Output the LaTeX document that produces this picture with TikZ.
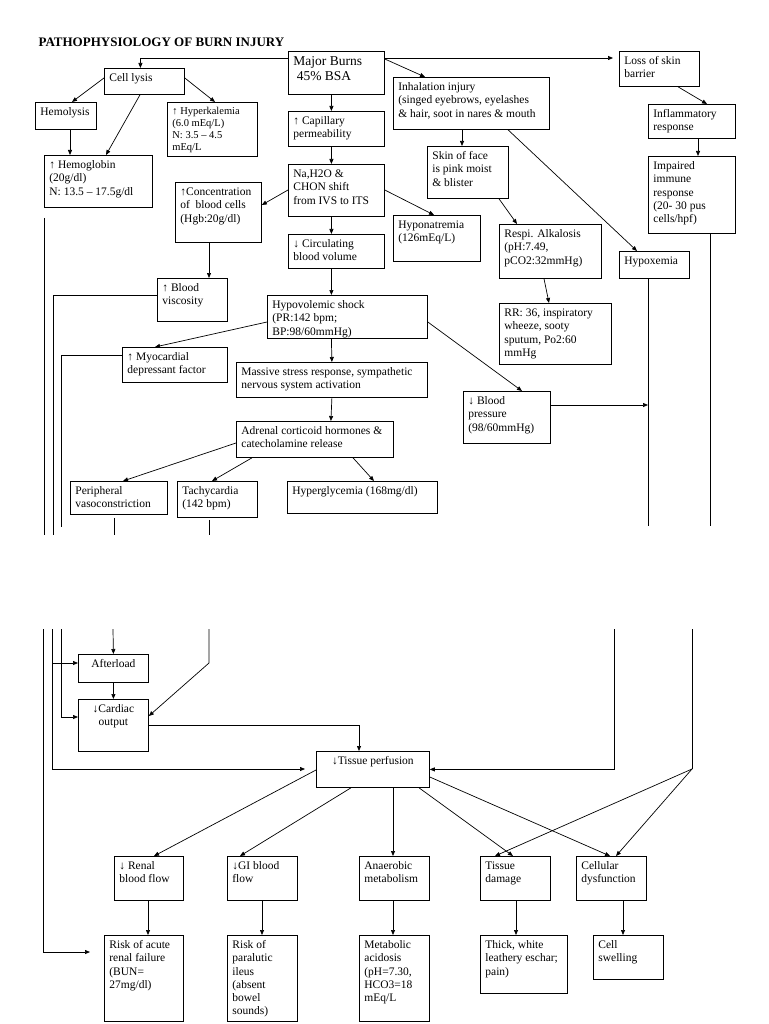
\documentclass[tikz,border=0pt]{standalone}
\usepackage{fontspec}
\setmainfont{Liberation Serif}
\usetikzlibrary{arrows.meta}
\newcommand{\mkbox}[7][]{\node[box,#1] (#2) at (#3,#4) {\parbox[c][\dimexpr#6pt-8pt\relax][t]{\dimexpr#5pt-10pt\relax}{\begin{tabular}[t]{@{}l@{}}#7\end{tabular}}};}
\newcommand{\mkcbox}[7][]{\node[box,#1] (#2) at (#3,#4) {\parbox[c][\dimexpr#6pt-8pt\relax][t]{\dimexpr#5pt-10pt\relax}{\centering\begin{tabular}[t]{@{}c@{}}#7\end{tabular}}};}
\begin{document}
\begin{tikzpicture}[x=1pt,y=-1pt,
  box/.style={draw,line width=0.8pt,anchor=north west,inner xsep=5pt,inner ysep=4pt,font=\fontsize{11.5}{13.2}\selectfont},
  ln/.style={line width=0.7pt},
  arr/.style={ln,-{Triangle[length=5pt,width=4pt]}}]
\fill[white] (0,0) rectangle (768,1024);
\useasboundingbox (0,0) rectangle (768,1024);
\node[anchor=base west,font=\bfseries\fontsize{13}{15}\selectfont] (title) at (35,47) {PATHOPHYSIOLOGY OF BURN INJURY};
% centre column
\mkbox[font=\fontsize{13.5}{15}\selectfont]{burns}{288}{51}{96}{43}{Major Burns\\\ 45\% BSA}
\mkbox{cap}{288}{111}{96}{35}{↑ Capillary\\permeability}
\mkbox{na}{288}{164}{96}{52}{Na,H2O \&\\CHON shift\\from IVS to ITS}
\mkbox{circ}{288}{234}{96}{34}{↓ Circulating\\blood volume}
\mkbox{shock}{267}{295}{160}{43}{Hypovolemic shock\\(PR:142 bpm;\\BP:98/60mmHg)}
\mkbox{stress}{236}{362}{191}{35}{Massive stress response, sympathetic\\nervous system activation}
\mkbox{adrenal}{236}{421}{157}{36}{Adrenal corticoid hormones \&\\catecholamine release}
\mkbox{periph}{70}{481}{97}{33}{Peripheral\\vasoconstriction}
\mkbox{tachy}{177}{481}{80}{36}{Tachycardia\\(142 bpm)}
\mkbox{hyperg}{287}{481}{150}{32}{Hyperglycemia (168mg/dl)}
% left side
\mkbox{lysis}{104}{68}{80}{26}{Cell lysis}
\mkbox{hemolysis}{35}{102}{61}{27}{Hemolysis}
\mkbox[font=\fontsize{10.5}{12}\selectfont]{hyperk}{167}{102}{90}{54}{↑ Hyperkalemia\\(6.0 mEq/L)\\N: 3.5 – 4.5\\mEq/L}
\mkbox{hgb}{44}{155}{108}{52}{↑ Hemoglobin\\(20g/dl)\\N: 13.5 – 17.5g/dl}
\mkbox{conc}{175}{182}{86}{60}{↑Concentration\\of\ \ blood cells\\(Hgb:20g/dl)}
\mkbox{visc}{157}{278}{70}{43}{↑ Blood\\viscosity}
\mkbox{myo}{122}{347}{105}{35}{↑ Myocardial\\depressant factor}
% right side
\mkbox{inh}{393}{77}{156}{52}{Inhalation injury\\(singed eyebrows, eyelashes\\\& hair, soot in nares \& mouth}
\mkbox{skin}{427}{146}{81}{52}{Skin of face\\is pink moist\\\& blister}
\mkbox{hypona}{393}{215}{87}{46}{Hyponatremia\\(126mEq/L)}
\mkbox{respi}{499}{224}{102}{54}{Respi. Alkalosis\\(pH:7.49,\\pCO2:32mmHg)}
\mkbox{rr}{499}{303}{112}{61}{RR: 36, inspiratory\\wheeze, sooty\\sputum, Po2:60\\mmHg}
\mkbox{bp}{463}{391}{87}{52}{↓ Blood\\pressure\\(98/60mmHg)}
\mkbox{hypox}{619}{251}{70}{27}{Hypoxemia}
\mkbox{loss}{619}{51}{80}{35}{Loss of skin\\barrier}
\mkbox{inflam}{648}{104}{87}{34}{Inflammatory\\response}
\mkbox{immune}{648}{156}{87}{77}{Impaired\\immune\\response\\(20- 30 pus\\cells/hpf)}
% second page
\mkcbox{afterload}{78}{654}{70}{28}{Afterload}
\mkcbox{cardiac}{78}{699}{70}{52}{↓Cardiac\\output}
\mkcbox{tissue}{316}{751}{113}{36}{↓Tissue perfusion}
\mkbox{renal}{114}{856}{69}{44}{↓ Renal\\blood flow}
\mkbox{gi}{227}{856}{70}{44}{↓GI blood\\flow}
\mkbox{anaer}{359}{856}{70}{44}{Anaerobic\\metabolism}
\mkbox{tdam}{480}{856}{70}{44}{Tissue\\damage}
\mkbox{cellular}{576}{856}{70}{44}{Cellular\\dysfunction}
\mkbox{arf}{104}{935}{79}{86}{Risk of acute\\renal failure\\(BUN=\\27mg/dl)}
\mkbox{ileus}{227}{935}{70}{86}{Risk of\\paralutic\\ileus\\(absent\\bowel\\sounds)}
\mkbox{metab}{359}{935}{70}{86}{Metabolic\\acidosis\\(pH=7.30,\\HCO3=18\\mEq/L}
\mkbox{eschar}{480}{935}{87}{58}{Thick, white\\leathery eschar;\\pain)}
\mkbox{swell}{593}{935}{70}{44}{Cell\\swelling}
% line ends at the page break
\coordinate (hgbA) at (44,535);
\coordinate (hgbB) at (43,629);
\coordinate (arfIn) at (90,952);
\coordinate (viscA) at (53,535);
\coordinate (viscB) at (52,629);
\coordinate (tisIn) at (305,769);
\coordinate (myoA) at (61,527);
\coordinate (myoB) at (61,629);
\coordinate (perA) at (114,535);
\coordinate (perB) at (113,629);
\coordinate (tacA) at (209,535);
\coordinate (tacB) at (209,629);
\coordinate (hoxA) at (648,526);
\coordinate (hoxB) at (614,629);
\coordinate (immA) at (710,526);
\coordinate (immB) at (692,629);
\coordinate (jr) at (692,769);
\coordinate (afIn) at ([yshift=-9pt]afterload.north west);
\coordinate (bpOut) at ([yshift=-14pt]bp.north east);
% first page arrows
\draw[arr] ([yshift=-7pt]burns.north west) -| ([xshift=-4pt]lysis.north);
\draw[arr] ([yshift=-7pt]burns.north east) -- ([xshift=-6pt,yshift=-7pt]loss.north west);
\draw[arr] ([yshift=-8pt]burns.north east) -- ([xshift=32pt]inh.north west);
\draw[arr] ([xshift=-5pt]burns.south) -- ([xshift=-5pt]cap.north);
\draw[arr] ([xshift=-5pt]cap.south) -- ([xshift=-5pt]na.north);
\draw[arr] ([xshift=-5pt]na.south) -- ([xshift=-5pt]circ.north);
\draw[arr] ([xshift=-5pt]circ.south) -- ([xshift=-16pt]shock.north);
\draw[arr] ([xshift=-16pt]shock.south) -- (stress.north);
\draw[arr] (stress.south) -- ([xshift=16pt]adrenal.north);
\draw[arr] ([yshift=-10pt]lysis.north west) -- ([xshift=37pt]hemolysis.north west);
\draw[arr] ([xshift=36pt]lysis.south west) -- ([xshift=62pt]hgb.north west);
\draw[arr] ([yshift=-10pt]lysis.north east) -- ([xshift=48pt]hyperk.north west);
\draw[arr] ([xshift=35pt]hemolysis.south west) -- ([xshift=26pt]hgb.north west);
\draw[arr] ([yshift=-26pt]na.north west) -- ([yshift=-23pt]conc.north east);
\draw[arr] ([yshift=-26pt]na.north east) -- ([xshift=41pt]hypona.north west);
\draw[arr] ([xshift=34pt]conc.south west) -- ([xshift=52pt]visc.north west);
\draw[arr] ([yshift=-27pt]shock.north west) -- ([xshift=33pt]myo.north west);
\draw[arr] ([yshift=-27pt]shock.north east) -- ([xshift=59pt]bp.north west);
\draw[arr] ([yshift=-22pt]adrenal.north west) -- ([xshift=53pt]periph.north west);
\draw[arr] ([xshift=16pt]adrenal.south west) -- ([xshift=35pt]tachy.north west);
\draw[arr] ([xshift=117pt]adrenal.south west) -- ([xshift=87pt]hyperg.north west);
\draw[arr] ([xshift=69pt]inh.south west) -- ([xshift=35pt]skin.north west);
\draw[arr] ([xshift=72pt]skin.south west) -- ([xshift=18pt]respi.north west);
\draw[arr] ([xshift=115pt]inh.south west) -- ([xshift=18pt]hypox.north west);
\draw[arr] ([xshift=45pt]respi.south west) -- ([xshift=50pt]rr.north west);
\draw[arr] ([xshift=59pt]loss.south west) -- ([xshift=59pt]inflam.north west);
\draw[arr] ([xshift=50pt]inflam.south west) -- ([xshift=50pt]immune.north west);
\draw[arr] (bpOut) -- (bpOut -| hoxA);
% lines running down to the break
\draw[ln] ([yshift=-10pt]hgb.south west) -- (hgbA);
\draw[ln] ([yshift=-17pt]visc.north west) -| (viscA);
\draw[ln] ([yshift=-8pt]myo.north west) -| (myoA);
\draw[ln] ([xshift=44pt,yshift=-3pt]periph.south west) -- (perA);
\draw[ln] ([xshift=32pt,yshift=-2pt]tachy.south west) -- (tacA);
\draw[ln] ([xshift=29pt]hypox.south west) -- (hoxA);
\draw[ln] ([xshift=62pt]immune.south west) -- (immA);
% second page arrows
\draw[arr] (hgbB) |- (arfIn);
\draw[arr] (viscB) |- (tisIn);
\draw[arr] (viscB |- afIn) -- (afIn);
\draw[arr] (myoB) |- ([yshift=-18pt]cardiac.north west);
\draw[arr] (perB) -- (afterload.north);
\draw[arr] (tacB) -- ++(0,34) -- ([yshift=-17pt]cardiac.north east);
\draw[arr] (afterload.south) -- (cardiac.north);
\draw[arr] ([yshift=-26pt]cardiac.north east) -| ([xshift=43pt]tissue.north west);
\draw[arr] (hoxB) |- (tissue.east);
\draw[ln] (immB) -- (jr);
\draw[arr] (jr) -- ([xshift=15pt]tdam.north west);
\draw[arr] (jr) -- ([xshift=40pt]cellular.north west);
\draw[arr] ([yshift=-19pt]tissue.north west) -- ([xshift=40pt]renal.north west);
\draw[arr] ([xshift=35pt]tissue.south west) -- ([xshift=13pt]gi.north west);
\draw[arr] ([xshift=77pt]tissue.south west) -- ([xshift=34pt]anaer.north west);
\draw[arr] ([xshift=103pt]tissue.south west) -- ([xshift=33pt]tdam.north west);
\draw[arr] ([yshift=-26pt]tissue.north east) -- ([xshift=34pt]cellular.north west);
\foreach \a/\b/\s/\t in {renal/arf/34/44,gi/ileus/35/35,anaer/metab/34/34,tdam/eschar/36/36,cellular/swell/47/30}
  \draw[arr] ([xshift=\s pt]\a.south west) -- ([xshift=\t pt]\b.north west);
\end{tikzpicture}
\end{document}
